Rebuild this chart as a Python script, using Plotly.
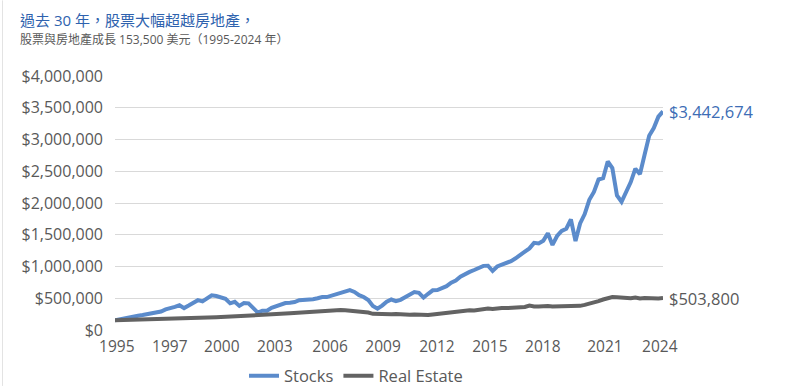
import plotly.graph_objects as go

# Quarterly values, 1995 Q1 .. 2024 Q4 (in US$)
quarters = [f"{1995 + i // 4}Q{i % 4 + 1}" for i in range(120)]

stocks_k = [
    153.5, 170, 185, 198,
    212, 225, 235, 248,
    258, 268, 290, 325,
    338, 365, 390, 345,
    385, 430, 470, 450,
    505, 545, 535, 520,
    490, 420, 445, 380,
    425, 420, 341, 275,
    305, 305, 350, 380,
    410, 425, 430, 440,
    470, 475, 472, 485,
    500, 520, 518, 540,
    570, 590, 618, 628,
    600, 548, 520, 472,
    380, 335, 385, 445,
    480, 455, 475, 520,
    565, 598, 585, 510,
    570, 625, 630, 660,
    690, 745, 780, 840,
    885, 915, 945, 980,
    1010, 1012, 930, 1000,
    1030, 1045, 1085, 1130,
    1190, 1235, 1285, 1372,
    1363, 1405, 1525, 1340,
    1480, 1560, 1595, 1740,
    1400, 1678, 1825, 2050,
    2175, 2370, 2390, 2655,
    2550, 2120, 2020, 2160,
    2330, 2540, 2455, 2760,
    3060, 3180, 3360, 3442.674,
]

real_estate_k = [
    153.5, 155, 157, 158,
    160, 162, 164, 166,
    168, 170, 172, 174,
    176, 178, 180, 181,
    183, 186, 189, 192,
    195, 197, 200, 203,
    206, 209, 213, 217,
    220, 224, 228, 231,
    235, 240, 245, 250,
    255, 260, 265, 270,
    275, 281, 287, 293,
    298, 303, 308, 312,
    318, 314, 310, 305,
    300, 296, 288, 275,
    255, 250, 258, 254,
    250, 252, 245, 248,
    240, 244, 236, 238,
    236, 245, 255, 262,
    272, 280, 288, 292,
    300, 310, 306, 318,
    330, 338, 332, 345,
    348, 345, 352, 350,
    358, 362, 385, 370,
    372, 378, 376, 370,
    372, 374, 372, 368,
    366, 380, 395, 410,
    425, 455, 480, 505,
    520, 515, 505, 510,
    500, 512, 495, 505,
    498, 502, 497, 503.8,
]

stocks = [v * 1000 for v in stocks_k]
real_estate = [v * 1000 for v in real_estate_k]

tick_labels = ["1995", "1997", "2000", "2003", "2006", "2009",
               "2012", "2015", "2018", "2021", "2024"]
tick_pos = [0.4, 11.9, 23.2, 34.7, 46.7, 58.2, 69.9, 81.4, 92.9, 106.4, 118.3]

y_ticks = [0, 500000, 1000000, 1500000, 2000000, 2500000, 3000000, 3500000, 4000000]
y_text = ["$0", "$500,000", "$1,000,000", "$1,500,000", "$2,000,000",
          "$2,500,000", "$3,000,000", "$3,500,000", "$4,000,000"]

BLUE = "#5B8BCB"
GRAY = "#636363"
FONT = "Open Sans, Noto Sans CJK TC, sans-serif"

x = list(range(len(quarters)))

fig = go.Figure()
fig.add_trace(go.Scatter(x=x, y=stocks, mode="lines", name="Stocks",
                         line=dict(color=BLUE, width=4), customdata=quarters))
fig.add_trace(go.Scatter(x=x, y=real_estate, mode="lines", name="Real Estate",
                         line=dict(color=GRAY, width=4), customdata=quarters))

fig.add_annotation(x=x[-1], y=stocks[-1], xref="x", yref="y",
                   text="$3,442,674", showarrow=False, xanchor="left",
                   xshift=4, font=dict(color="#3D6DB5", size=16.5, family=FONT))
fig.add_annotation(x=x[-1], y=real_estate[-1], xref="x", yref="y",
                   text="$503,800", showarrow=False, xanchor="left",
                   xshift=4, font=dict(color="#595959", size=16.5, family=FONT))

# Title and subtitle
fig.add_annotation(x=(18 - 115) / 548, y=(330 - 20) / 254.3, xref="paper", yref="paper",
                   text="過去 30 年，股票大幅超越房地產，", showarrow=False,
                   xanchor="left", yanchor="middle",
                   font=dict(color="#2E62AE", size=15, family=FONT))
fig.add_annotation(x=(18 - 115) / 548, y=(330 - 39) / 254.3, xref="paper", yref="paper",
                   text="股票與房地產成長 153,500 美元（1995-2024 年）", showarrow=False,
                   xanchor="left", yanchor="middle",
                   font=dict(color="#595959", size=12, family=FONT))

# faint frame line on the left edge
fig.add_shape(type="line", xref="paper", yref="paper",
              x0=(2.5 - 115) / 548, x1=(2.5 - 115) / 548,
              y0=-56 / 254.3, y1=330 / 254.3,
              line=dict(color="#E3E3E3", width=1))

fig.update_layout(
    width=800, height=386,
    margin=dict(l=115, r=137, t=76, b=56, autoexpand=False),
    paper_bgcolor="white", plot_bgcolor="white",
    font=dict(family=FONT, color="#595959", size=15),
    showlegend=True,
    legend=dict(orientation="h", xref="container", yref="container",
                x=0.445, y=0.026, xanchor="center", yanchor="middle",
                font=dict(size=16.5, color="#595959"),
                tracegroupgap=0),
    xaxis=dict(range=[0, 119], tickmode="array", tickvals=tick_pos,
               ticktext=tick_labels, showgrid=False, zeroline=False,
               showline=False, ticks="", ticklabelstandoff=5, automargin=False,
               tickfont=dict(size=15.5, color="#595959")),
    yaxis=dict(range=[0, 4000000], tickmode="array", tickvals=y_ticks,
               ticktext=y_text, showgrid=True, gridcolor="#D9D9D9",
               gridwidth=1, zeroline=False, showline=False, ticks="",
               ticklabelstandoff=11, automargin=False,
               tickfont=dict(size=16, color="#595959")),
)

fig.write_html(
    "out.html",
    config={"displayModeBar": False},
    post_script="document.body.style.margin='0px';document.body.style.overflow='hidden';",
)
